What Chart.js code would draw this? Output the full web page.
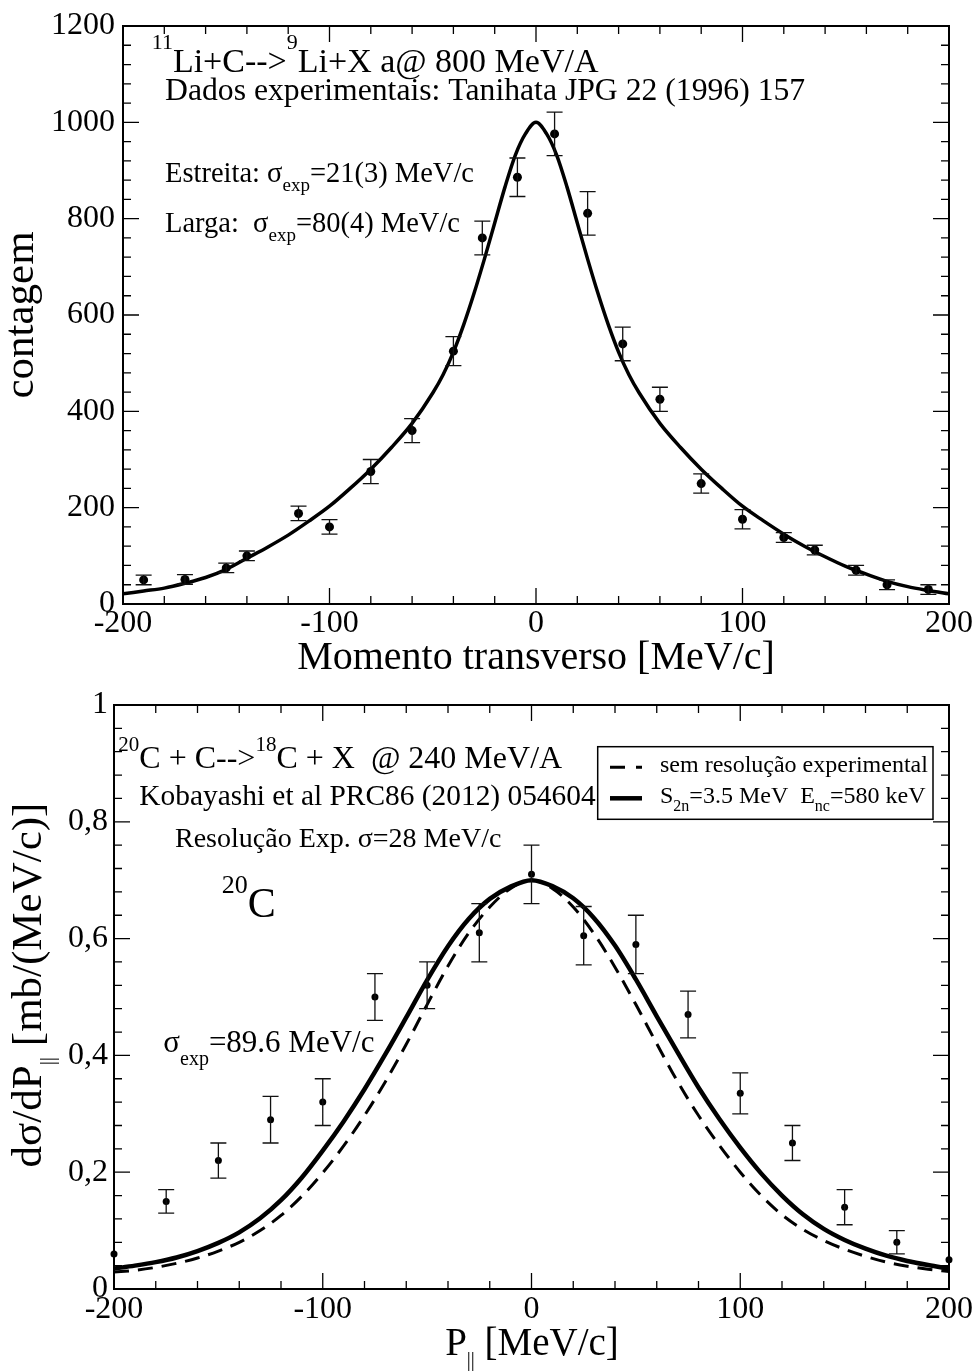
<!DOCTYPE html>
<html><head><meta charset="utf-8">
<script src="https://cdn.jsdelivr.net/npm/chart.js@4/dist/chart.umd.min.js"></script>
<style>
html,body{margin:0;padding:0;background:#fff;}
#wrap{position:relative;width:978px;height:1371px;overflow:hidden;}
canvas{position:absolute;left:0;}
</style>
</head><body>
<div id="wrap">
<canvas id="c1" width="978" height="680" style="top:0px"></canvas>
<canvas id="c2" width="978" height="691" style="top:680px"></canvas>
</div>
<script>
// ---------- DATA (top chart) ----------
const topExpX   = [-190,-170,-150,-140,-115,-100,-80,-60,-40,-26,-9,9,25,42,60,80,100,120,135,155,170,190];
const topExpY   = [50,51,75,100,188,160,275,360,525,760,886,976,811,540,425,250,176,138,112,70,40,30];
const topExpErr = [10,10,10,10,15,15,25,25,30,35,40,45,45,35,25,20,20,10,10,10,10,10];
const topFitX = [-200,-190,-180,-170,-160,-150,-140,-130,-120,-110,-100,-90,-80,-70,-60,-50,
                 -45,-40,-35,-30,-25,-20,-15,-10,-5,0,5,10,15,20,25,30,35,40,45,
                 50,60,70,80,90,100,110,120,130,140,150,160,170,180,190,200];
const topFitY = [21,27,33,43,55,72,95,118,143,172,203,240,280,325,375,438,
                 476,523,580,645,716,791,866,932,977,1000,977,932,866,791,716,645,580,523,476,
                 438,375,325,280,240,203,173,145,120,98,78,62,47,36,28,21];
const topXTicks = {min:-200, max:200, major:100, minor:20};
const topYTicks = {min:0, max:1200, major:200, minor:40};

// ---------- DATA (bottom chart) ----------
const botExpX   = [-200,-175,-150,-125,-100,-75,-50,-25,0,25,50,75,100,125,150,175,200];
const botExpY   = [0.06,0.15,0.22,0.29,0.32,0.50,0.52,0.61,0.71,0.605,0.59,0.47,0.335,0.25,0.14,0.08,0.05];
const botExpErr = [0,0.02,0.03,0.04,0.04,0.04,0.04,0.05,0.05,0.05,0.05,0.04,0.035,0.03,0.03,0.02,0];
const botCurveX = [-200,-190,-180,-170,-160,-150,-140,-130,-120,-110,-100,-90,-80,-70,-60,-50,-40,-30,-20,-10,
                   0,10,20,30,40,50,60,70,80,90,100,110,120,130,140,150,160,170,180,190,200];
const botSolidY = [0.035,0.040,0.046,0.054,0.065,0.079,0.097,0.121,0.152,0.191,0.237,0.287,0.342,0.402,0.465,0.529,0.587,0.634,0.668,0.689,
                   0.700,0.690,0.669,0.635,0.588,0.530,0.467,0.405,0.345,0.291,0.242,0.198,0.160,0.128,0.103,0.084,0.069,0.057,0.048,0.041,0.035];
const botDashY  = [0.029,0.032,0.037,0.044,0.053,0.065,0.080,0.100,0.126,0.159,0.199,0.245,0.297,0.355,0.419,0.487,0.553,0.610,0.654,0.686,
                   0.700,0.686,0.654,0.608,0.551,0.487,0.420,0.355,0.297,0.246,0.200,0.160,0.127,0.102,0.083,0.068,0.056,0.046,0.039,0.034,0.030];
const botXTicks = {min:-200, max:200, major:100, minor:20};
const botYTicks = {min:0, max:1, major:0.2, minor:0.04};

const FAM = '"Liberation Serif","Times New Roman",Times,serif';
const zip = (xs, ys) => xs.map((x, i) => ({x, y: ys[i]}));

function rich(ctx, x, y, parts) {
  let cx = x;
  ctx.textAlign = 'left';
  ctx.textBaseline = 'alphabetic';
  for (const p of parts) {
    ctx.font = p.s + 'px ' + FAM;
    ctx.fillText(p.t, cx, y + (p.dy || 0));
    cx += ctx.measureText(p.t).width;
  }
  return cx - x;
}
function richWidth(ctx, parts) {
  let w = 0;
  for (const p of parts) { ctx.font = p.s + 'px ' + FAM; w += ctx.measureText(p.t).width; }
  return w;
}

function frameTicks(chart, xt, yt) {
  const {ctx, chartArea: a, scales: {x, y}} = chart;
  ctx.save();
  ctx.strokeStyle = '#000';
  ctx.lineWidth = 1.3;
  const isMajor = (v, m) => Math.abs(v / m - Math.round(v / m)) < 1e-6;
  ctx.beginPath();
  const nx = Math.round((xt.max - xt.min) / xt.minor);
  for (let i = 0; i <= nx; i++) {
    const v = xt.min + i * xt.minor;
    const px = x.getPixelForValue(v);
    const L = isMajor(v, xt.major) ? 16 : 8;
    ctx.moveTo(px, a.bottom); ctx.lineTo(px, a.bottom - L);
    ctx.moveTo(px, a.top); ctx.lineTo(px, a.top + L);
  }
  const ny = Math.round((yt.max - yt.min) / yt.minor);
  for (let i = 0; i <= ny; i++) {
    const v = yt.min + i * yt.minor;
    const py = y.getPixelForValue(v);
    const L = isMajor(v, yt.major) ? 16 : 8;
    ctx.moveTo(a.left, py); ctx.lineTo(a.left + L, py);
    ctx.moveTo(a.right, py); ctx.lineTo(a.right - L, py);
  }
  ctx.stroke();
  ctx.lineWidth = 2;
  ctx.strokeRect(a.left, a.top, a.right - a.left, a.bottom - a.top);
  ctx.restore();
}

function errorBars(chart, xs, ys, es, cap) {
  const {ctx, scales: {x, y}} = chart;
  ctx.save();
  ctx.strokeStyle = '#111';
  ctx.lineWidth = 1.3;
  ctx.beginPath();
  xs.forEach((xv, i) => {
    if (!es[i]) return;
    const px = x.getPixelForValue(xv);
    const p1 = y.getPixelForValue(ys[i] - es[i]);
    const p2 = y.getPixelForValue(ys[i] + es[i]);
    ctx.moveTo(px, p1); ctx.lineTo(px, p2);
    ctx.moveTo(px - cap, p1); ctx.lineTo(px + cap, p1);
    ctx.moveTo(px - cap, p2); ctx.lineTo(px + cap, p2);
  });
  ctx.stroke();
  ctx.restore();
}

const tickFont = {family: FAM, size: 32, lineHeight: 1};

// ---------- TOP CHART ----------
new Chart(document.getElementById('c1'), {
  type: 'scatter',
  data: {
    datasets: [
      {data: zip(topExpX, topExpY), pointRadius: 4.5, pointBackgroundColor: '#000', pointBorderWidth: 0, showLine: false, clip: false},
      {data: zip(topFitX, topFitY), showLine: true, borderColor: '#000', borderWidth: 3.5, pointRadius: 0, cubicInterpolationMode: 'monotone', fill: false}
    ]
  },
  options: {
    responsive: false, animation: false, events: [],
    layout: {padding: {top: 26, right: 29, left: 0, bottom: 0}},
    plugins: {legend: {display: false}, tooltip: {enabled: false}},
    scales: {
      x: {
        type: 'linear', min: topXTicks.min, max: topXTicks.max,
        afterFit: s => { s.height = 76; },
        ticks: {stepSize: topXTicks.major, padding: 4, font: tickFont, color: '#000', maxRotation: 0, autoSkip: false,
          callback: v => String(v)},
        grid: {display: false, drawTicks: false}, border: {display: false},
        title: {display: true, text: 'Momento transverso [MeV/c]', color: '#000', font: {family: FAM, size: 40, lineHeight: 1}, padding: {top: 0, bottom: 2}}
      },
      y: {
        min: topYTicks.min, max: topYTicks.max,
        afterFit: s => { s.width = 123; },
        ticks: {stepSize: topYTicks.major, padding: 8, font: tickFont, color: '#000', callback: v => String(v)},
        grid: {display: false, drawTicks: false}, border: {display: false},
        title: {display: true, text: 'contagem', color: '#000', font: {family: FAM, size: 43, lineHeight: 1}, padding: {top: 0, bottom: 0}}
      }
    }
  },
  plugins: [{
    id: 'deco1',
    afterDatasetsDraw(chart) {
      errorBars(chart, topExpX, topExpY, topExpErr, 8);
      frameTicks(chart, topXTicks, topYTicks);
      const ctx = chart.ctx;
      ctx.save();
      ctx.fillStyle = '#000';
      rich(ctx, 151.7, 71.7, [{t: '11', s: 22, dy: -23}, {t: 'Li+C-->', s: 34}, {t: '9', s: 22, dy: -23}, {t: 'Li+X a@ 800 MeV/A', s: 34}]);
      rich(ctx, 165, 100, [{t: 'Dados experimentais: Tanihata JPG 22 (1996) 157', s: 31.7}]);
      rich(ctx, 165, 181.7, [{t: 'Estreita: σ', s: 28.5}, {t: 'exp', s: 19, dy: 9}, {t: '=21(3) MeV/c', s: 28.5}]);
      rich(ctx, 165, 231.7, [{t: 'Larga:  σ', s: 28.5}, {t: 'exp', s: 19, dy: 9}, {t: '=80(4) MeV/c', s: 28.5}]);
      ctx.restore();
    }
  }]
});

// ---------- BOTTOM CHART ----------
const OFF = 680;
new Chart(document.getElementById('c2'), {
  type: 'scatter',
  data: {
    datasets: [
      {data: zip(botExpX, botExpY), pointRadius: 3.5, pointBackgroundColor: '#000', pointBorderWidth: 0, showLine: false, clip: false},
      {data: zip(botCurveX, botSolidY), showLine: true, borderColor: '#000', borderWidth: 4.5, pointRadius: 0, cubicInterpolationMode: 'monotone', fill: false},
      {data: zip(botCurveX, botDashY), showLine: true, borderColor: '#000', borderWidth: 3, borderDash: [15, 9], pointRadius: 0, cubicInterpolationMode: 'monotone', fill: false}
    ]
  },
  options: {
    responsive: false, animation: false, events: [],
    layout: {padding: {top: 25, right: 29, left: 0, bottom: 0}},
    plugins: {legend: {display: false}, tooltip: {enabled: false}},
    scales: {
      x: {
        type: 'linear', min: botXTicks.min, max: botXTicks.max,
        afterFit: s => { s.height = 82; },
        ticks: {stepSize: botXTicks.major, padding: 5, font: tickFont, color: '#000', maxRotation: 0, autoSkip: false,
          callback: v => String(v)},
        grid: {display: false, drawTicks: false}, border: {display: false}
      },
      y: {
        min: botYTicks.min, max: botYTicks.max,
        afterFit: s => { s.width = 114; },
        ticks: {stepSize: botYTicks.major, padding: 6, font: tickFont, color: '#000',
          callback: v => (Math.abs(v) < 1e-9 ? '0' : Math.abs(v - 1) < 1e-9 ? '1' : v.toFixed(1).replace('.', ','))},
        grid: {display: false, drawTicks: false}, border: {display: false}
      }
    }
  },
  plugins: [{
    id: 'deco2',
    afterDatasetsDraw(chart) {
      errorBars(chart, botExpX, botExpY, botExpErr, 8);
      frameTicks(chart, botXTicks, botYTicks);
      const ctx = chart.ctx;
      ctx.save();
      ctx.fillStyle = '#000';
      rich(ctx, 118.3, 768.3 - OFF, [{t: '20', s: 21, dy: -17}, {t: 'C + C-->', s: 32}, {t: '18', s: 21, dy: -17}, {t: 'C + X  @ 240 MeV/A', s: 32}]);
      rich(ctx, 139.3, 805 - OFF, [{t: 'Kobayashi et al PRC86 (2012) 054604', s: 29.4}]);
      rich(ctx, 175, 846.7 - OFF, [{t: 'Resolução Exp. σ=28 MeV/c', s: 28}]);
      rich(ctx, 221.7, 917.3 - OFF, [{t: '20', s: 26, dy: -24}, {t: 'C', s: 42}]);
      rich(ctx, 163.3, 1051.7 - OFF, [{t: 'σ', s: 31}, {t: 'exp', s: 20, dy: 13}, {t: '=89.6 MeV/c', s: 31}]);

      // legend box
      const bx = 597.7, by = 746.7 - OFF, bw = 933 - 597.7, bh = 819.3 - 746.7;
      ctx.fillStyle = '#fff';
      ctx.fillRect(bx, by, bw, bh);
      ctx.strokeStyle = '#000';
      ctx.lineWidth = 1.5;
      ctx.strokeRect(bx, by, bw, bh);
      ctx.beginPath();
      ctx.setLineDash([15, 11]);
      ctx.lineWidth = 3;
      ctx.moveTo(610, 767.3 - OFF); ctx.lineTo(642, 767.3 - OFF);
      ctx.stroke();
      ctx.setLineDash([]);
      ctx.beginPath();
      ctx.lineWidth = 4.5;
      ctx.moveTo(610, 798.3 - OFF); ctx.lineTo(642, 798.3 - OFF);
      ctx.stroke();
      ctx.fillStyle = '#000';
      rich(ctx, 660, 771.7 - OFF, [{t: 'sem resolução experimental', s: 24}]);
      rich(ctx, 660, 803.3 - OFF, [{t: 'S', s: 24}, {t: '2n', s: 16, dy: 8}, {t: '=3.5 MeV  E', s: 24}, {t: 'nc', s: 16, dy: 8}, {t: '=580 keV', s: 24}]);

      // y axis title (rotated, with subscript)
      const yParts = [{t: 'dσ/dP', s: 43}, {t: '||', s: 21, dy: 13}, {t: ' [mb/(MeV/c)]', s: 43}];
      const yw = richWidth(ctx, yParts);
      ctx.save();
      ctx.translate(41, 985 - OFF + yw / 2);
      ctx.rotate(-Math.PI / 2);
      rich(ctx, 0, 0, yParts);
      ctx.restore();

      // x axis title (with subscript)
      const xParts = [{t: 'P', s: 39}, {t: '||', s: 20, dy: 11}, {t: ' [MeV/c]', s: 39}];
      const xw = richWidth(ctx, xParts);
      rich(ctx, 532 - xw / 2, 1355 - OFF, xParts);
      ctx.restore();
    }
  }]
});
</script>
</body></html>
